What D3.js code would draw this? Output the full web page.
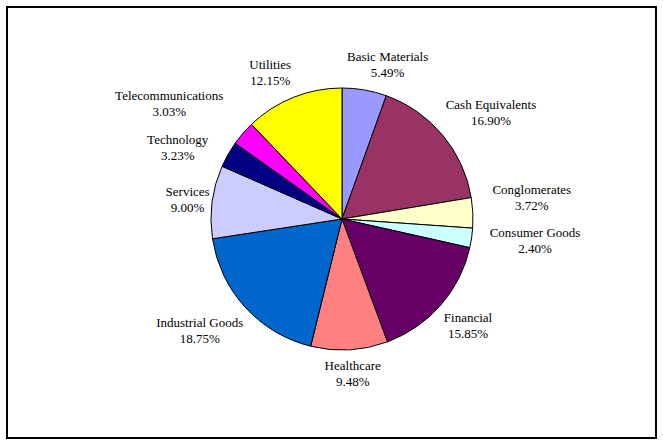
<!DOCTYPE html>
<html>
<head>
<meta charset="utf-8">
<script src="https://cdn.jsdelivr.net/npm/d3@7"></script>
<style>
  html, body { margin: 0; padding: 0; background: #ffffff; }
  svg { display: block; }
</style>
</head>
<body>
<svg id="chart" width="663" height="444"></svg>
<script>
const categories = ["Basic Materials", "Cash Equivalents", "Conglomerates", "Consumer Goods",
  "Financial", "Healthcare", "Industrial Goods", "Services", "Technology",
  "Telecommunications", "Utilities"];
const values = [5.49, 16.90, 3.72, 2.40, 15.85, 9.48, 18.75, 9.00, 3.23, 3.03, 12.15];
const valueLabels = ["5.49%", "16.90%", "3.72%", "2.40%", "15.85%", "9.48%", "18.75%",
  "9.00%", "3.23%", "3.03%", "12.15%"];
const colors = ["#9999FF", "#993366", "#FFFFCC", "#CCFFFF", "#660066", "#FF8080",
  "#0066CC", "#CCCCFF", "#000080", "#FF00FF", "#FFFF00"];

// small manual label nudges (Excel-like label placement), in px
const labelNudgeX = [13, 3, 0, 5, -17, 0, -2, 34, 1, -29, -1];
const labelNudgeY = [1, -5, -14, -1, 2, -3, 5, 1, 6, -12, 0];

const W = 663, H = 444;
const cx = 342, cy = 219, R = 131;
const labelRx = 190, labelRy = 158;
const FONT = '"Liberation Serif", "Times New Roman", "DejaVu Serif", serif';

const svg = d3.select("#chart");

svg.append("rect")
  .attr("x", 7).attr("y", 7).attr("width", 649).attr("height", 431)
  .attr("fill", "#fff").attr("stroke", "#000").attr("stroke-width", 2);

const rows = categories.map((c, i) => ({ i, name: c, value: values[i], label: valueLabels[i], color: colors[i] }));

const pie = d3.pie().value(d => d.value).sort(null);
const arc = d3.arc().innerRadius(0).outerRadius(R);
const arcs = pie(rows);

const g = svg.append("g").attr("transform", `translate(${cx},${cy})`);

g.selectAll("path.slice")
  .data(arcs)
  .join("path")
  .attr("class", "slice")
  .attr("d", arc)
  .attr("fill", d => d.data.color)
  .attr("stroke", "#000")
  .attr("stroke-width", 1)
  .attr("stroke-linejoin", "round");

const labels = g.selectAll("text.lbl")
  .data(arcs)
  .join("text")
  .attr("class", "lbl")
  .attr("text-anchor", "middle")
  .attr("font-family", FONT)
  .attr("font-size", 13)
  .attr("fill", "#000")
  .attr("transform", d => {
    const a = (d.startAngle + d.endAngle) / 2;
    const px = labelRx * Math.sin(a) + labelNudgeX[d.data.i];
    const py = -labelRy * Math.cos(a) + labelNudgeY[d.data.i];
    return `translate(${px},${py - 3.5})`;
  });

labels.append("tspan").attr("x", 0).attr("dy", 0).text(d => d.data.name);
labels.append("tspan").attr("x", 0).attr("dy", 16).text(d => d.data.label);
</script>
</body>
</html>
